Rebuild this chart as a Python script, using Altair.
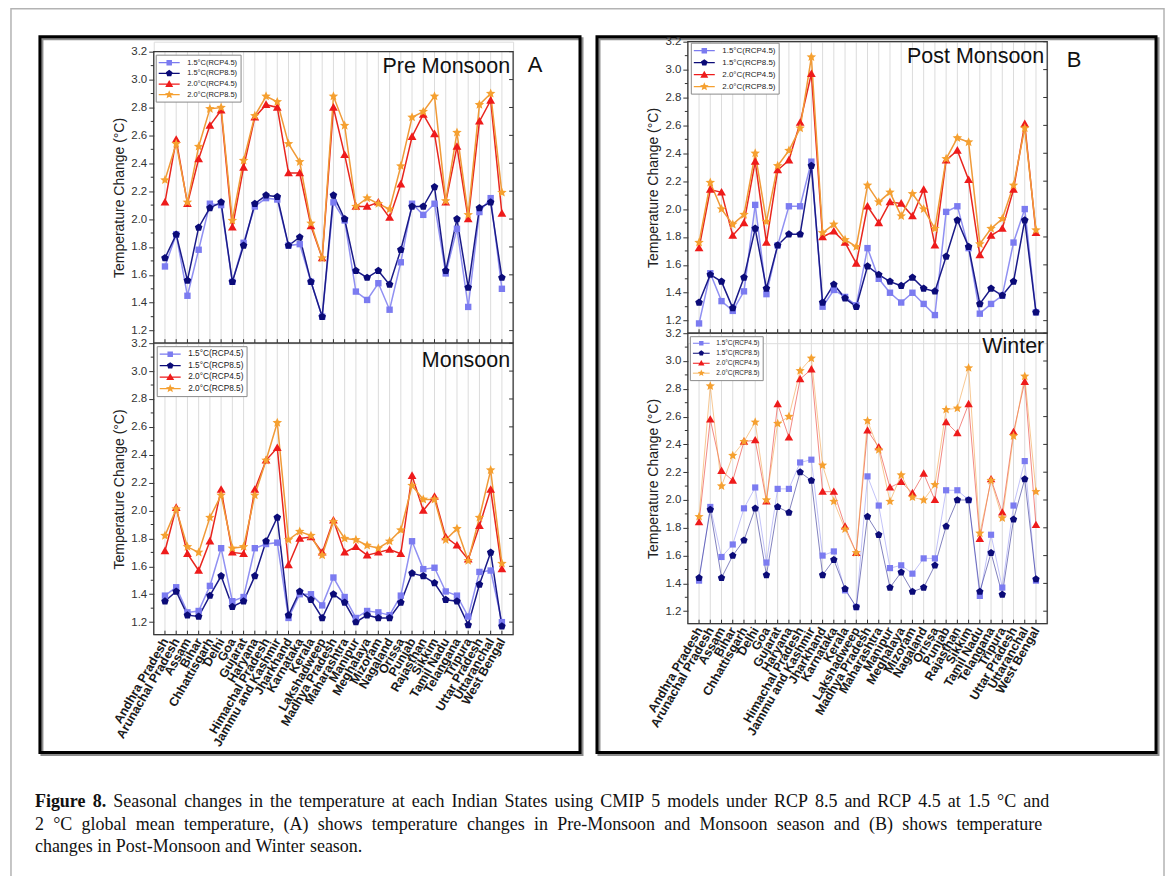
import altair as alt
import pandas as pd

states = ["Andhra Pradesh", "Arunachal Pradesh", "Assam", "Bihar", "Chhattisgarh", "Delhi", "Goa",
          "Gujarat", "Haryana", "Himachal Pradesh", "Jammu and Kashmir", "Jharkhand", "Karnataka",
          "Kerala", "Lakshadweep", "Madhya Pradesh", "Maharashtra", "Manipur", "Meghalaya", "Mizoram",
          "Nagaland", "Orissa", "Punjab", "Rajasthan", "Sikkim", "Tamil Nadu", "Telangana", "Tripura",
          "Uttar Pradesh", "Uttaranchal", "West Bengal"]
series = ["1.5°C(RCP4.5)", "1.5°C(RCP8.5)", "2.0°C(RCP4.5)", "2.0°C(RCP8.5)"]

pre_15_45 = [1.66, 1.89, 1.45, 1.78, 2.11, 2.10, 1.55, 1.83, 2.09, 2.15, 2.14, 1.81, 1.82, 1.55, 1.30, 2.12,
             1.99, 1.48, 1.42, 1.54, 1.35, 1.69, 2.11, 2.03, 2.11, 1.61, 1.93, 1.37, 2.05, 2.15, 1.50]
pre_15_85 = [1.72, 1.89, 1.56, 1.94, 2.08, 2.12, 1.55, 1.81, 2.11, 2.17, 2.16, 1.81, 1.87, 1.55, 1.30, 2.17,
             2.00, 1.63, 1.58, 1.63, 1.53, 1.78, 2.09, 2.09, 2.23, 1.63, 2.00, 1.51, 2.08, 2.12, 1.58]
pre_20_45 = [2.12, 2.57, 2.11, 2.43, 2.67, 2.78, 1.94, 2.37, 2.73, 2.82, 2.80, 2.33, 2.33, 1.95, 1.72, 2.80,
             2.46, 2.09, 2.09, 2.12, 2.01, 2.25, 2.59, 2.75, 2.61, 2.12, 2.52, 2.00, 2.70, 2.85, 2.04]
pre_20_85 = [2.28, 2.54, 2.12, 2.52, 2.79, 2.80, 1.99, 2.42, 2.74, 2.88, 2.84, 2.54, 2.41, 1.97, 1.72, 2.88,
             2.67, 2.09, 2.15, 2.11, 2.07, 2.38, 2.73, 2.77, 2.88, 2.13, 2.62, 2.03, 2.82, 2.90, 2.19]

mon_15_45 = [1.39, 1.45, 1.27, 1.28, 1.46, 1.73, 1.35, 1.38, 1.73, 1.76, 1.77, 1.23, 1.40, 1.40, 1.32, 1.52,
             1.38, 1.23, 1.28, 1.27, 1.25, 1.39, 1.78, 1.58, 1.59, 1.42, 1.39, 1.24, 1.56, 1.57, 1.20]
mon_15_85 = [1.35, 1.42, 1.25, 1.24, 1.39, 1.53, 1.31, 1.35, 1.53, 1.78, 1.95, 1.25, 1.42, 1.36, 1.23, 1.40,
             1.34, 1.20, 1.25, 1.23, 1.23, 1.34, 1.55, 1.53, 1.48, 1.36, 1.35, 1.18, 1.47, 1.70, 1.17]
mon_20_45 = [1.71, 2.02, 1.69, 1.57, 1.78, 2.15, 1.70, 1.69, 2.15, 2.36, 2.45, 1.61, 1.80, 1.81, 1.70, 1.93,
             1.70, 1.74, 1.68, 1.70, 1.72, 1.69, 2.25, 2.00, 2.10, 1.81, 1.75, 1.65, 1.89, 2.15, 1.58]
mon_20_85 = [1.82, 2.01, 1.74, 1.70, 1.95, 2.11, 1.73, 1.74, 2.11, 2.36, 2.63, 1.79, 1.85, 1.82, 1.68, 1.92,
             1.80, 1.79, 1.75, 1.73, 1.78, 1.86, 2.18, 2.08, 2.08, 1.79, 1.87, 1.64, 1.95, 2.29, 1.62]

post_15_45 = [1.18, 1.54, 1.34, 1.27, 1.41, 2.03, 1.39, 1.74, 2.02, 2.02, 2.34, 1.30, 1.42, 1.37, 1.31, 1.72,
              1.50, 1.40, 1.33, 1.40, 1.32, 1.24, 1.98, 2.02, 1.72, 1.25, 1.32, 1.38, 1.76, 2.00, 1.26]
post_15_85 = [1.33, 1.53, 1.48, 1.29, 1.51, 1.86, 1.43, 1.74, 1.82, 1.82, 2.31, 1.33, 1.46, 1.36, 1.30, 1.59,
              1.53, 1.48, 1.45, 1.51, 1.43, 1.41, 1.66, 1.92, 1.73, 1.32, 1.43, 1.38, 1.48, 1.92, 1.26]
post_20_45 = [1.72, 2.14, 2.12, 1.81, 1.90, 2.34, 1.76, 2.28, 2.35, 2.62, 2.97, 1.80, 1.84, 1.76, 1.61, 2.02,
              1.90, 2.05, 2.04, 1.95, 2.14, 1.74, 2.35, 2.42, 2.21, 1.67, 1.81, 1.86, 2.14, 2.61, 1.83]
post_20_85 = [1.76, 2.19, 2.00, 1.89, 1.96, 2.40, 1.91, 2.31, 2.42, 2.58, 3.09, 1.83, 1.89, 1.78, 1.73, 2.17,
              2.05, 2.12, 1.95, 2.11, 2.00, 1.86, 2.36, 2.51, 2.48, 1.75, 1.86, 1.93, 2.17, 2.58, 1.85]

win_15_45 = [1.42, 1.95, 1.59, 1.68, 1.94, 2.09, 1.55, 2.08, 2.08, 2.27, 2.29, 1.60, 1.63, 1.35, 1.23, 2.17,
             1.96, 1.51, 1.53, 1.47, 1.58, 1.58, 2.07, 2.07, 2.00, 1.31, 1.75, 1.37, 1.96, 2.28, 1.42]
win_15_85 = [1.44, 1.93, 1.44, 1.60, 1.71, 1.94, 1.46, 1.95, 1.91, 2.20, 2.14, 1.46, 1.57, 1.36, 1.23, 1.88,
             1.75, 1.37, 1.48, 1.34, 1.37, 1.53, 1.81, 2.00, 2.00, 1.34, 1.62, 1.32, 1.86, 2.15, 1.43]
win_20_45 = [1.84, 2.58, 2.21, 2.14, 2.42, 2.43, 1.99, 2.69, 2.45, 2.87, 2.94, 2.06, 2.06, 1.81, 1.62, 2.50,
             2.38, 2.09, 2.13, 2.05, 2.19, 2.00, 2.56, 2.48, 2.69, 1.72, 2.15, 1.91, 2.49, 2.85, 1.82]
win_20_85 = [1.88, 2.82, 2.10, 2.32, 2.42, 2.56, 2.00, 2.55, 2.60, 2.93, 3.02, 2.25, 1.99, 1.79, 1.62, 2.57,
             2.36, 1.99, 2.18, 2.02, 2.00, 2.11, 2.65, 2.66, 2.95, 1.76, 2.14, 1.87, 2.46, 2.89, 2.06]

y_major = [1.2, 1.4, 1.6, 1.8, 2.0, 2.2, 2.4, 2.6, 2.8, 3.0, 3.2]
y_minor = [1.3, 1.5, 1.7, 1.9, 2.1, 2.3, 2.5, 2.7, 2.9, 3.1]

caption_bold = "Figure 8."
caption_line1 = "Seasonal changes in the temperature at each Indian States using CMIP 5 models under RCP 8.5 and RCP 4.5 at 1.5 °C and"
caption_line2 = "2 °C global mean temperature, (A) shows temperature changes in Pre-Monsoon and Monsoon season and (B) shows temperature"
caption_line3 = "changes in Post-Monsoon and Winter season."

# ---------------- styles ----------------
FONT = "Liberation Sans"
SERIF = "Liberation Serif"
marker_colors = ["#7b7bf0", "#0b0b78", "#ee1b1b", "#f5a030"]
line_colors = ["#9090f2", "#1a1a88", "#e8261e", "#f09a38"]
marker_paths = [
    "M-0.8,-0.8H0.8V0.8H-0.8Z",
    "M0,-1L0.951,-0.309L0.588,0.809L-0.588,0.809L-0.951,-0.309Z",
    "M0,-1.1L1.1,0.8L-1.1,0.8Z",
    "M0,-1.25L0.33,-0.455L1.19,-0.386L0.535,0.174L0.735,1.01L0,0.56L-0.735,1.01L-0.535,0.174L-1.19,-0.386L-0.33,-0.455Z",
]
legend_paths = [
    "M-2.1,-0.12H2.1V0.12H-2.1Z M-0.55,-0.55H0.55V0.55H-0.55Z",
    "M-2.1,-0.12H2.1V0.12H-2.1Z M0,-0.7L0.666,-0.216L0.412,0.566L-0.412,0.566L-0.666,-0.216Z",
    "M-2.1,-0.12H2.1V0.12H-2.1Z M0,-0.8L0.8,0.6L-0.8,0.6Z",
    "M-2.1,-0.12H2.1V0.12H-2.1Z M0,-0.9L0.238,-0.328L0.856,-0.278L0.385,0.125L0.529,0.727L0,0.403L-0.529,0.727L-0.385,0.125L-0.856,-0.278L-0.238,-0.328Z",
]

# approximate glyph advance widths (em) of the serif caption font, used to justify the caption
TW = {" ": .25, "(": .333, ")": .333, ",": .25, "-": .333, ".": .25, "°": .4}
TW.update({d: .5 for d in "0123456789"})
TW.update(dict(zip("ABCDEFGHIJKLMNOPQRSTUVWXYZ",
                   [.722, .667, .667, .722, .611, .556, .722, .722, .333, .389, .722, .611, .889, .722,
                    .722, .556, .722, .667, .556, .611, .722, .722, .944, .722, .722, .611])))
TW.update(dict(zip("abcdefghijklmnopqrstuvwxyz",
                   [.444, .5, .444, .5, .444, .333, .5, .5, .278, .278, .5, .278, .778, .5, .5, .5, .5,
                    .333, .389, .278, .5, .5, .722, .5, .5, .444])))
TWB = {"F": .611, "i": .278, "g": .5, "u": .556, "r": .444, "e": .444, "8": .5, ".": .25}


def text_width(s, size, bold=False):
    table = TWB if bold else {}
    return sum(table.get(c, TW.get(c, .5)) for c in s) * size


one = pd.DataFrame({"k": [0]})
state_df = pd.DataFrame({"state": states})
major_df = pd.DataFrame({"v": y_major})
minor_df = pd.DataFrame({"v": y_minor})
YDOM = [1.11, 3.2]


def vrect(x1, y1, x2, y2, **kw):
    return alt.Chart(one).mark_rect(**kw).encode(
        x=alt.value(x1), x2=alt.value(x2), y=alt.value(y1), y2=alt.value(y2))


def vtext(txt, x, y, **kw):
    return alt.Chart(one).mark_text(text=txt, **kw).encode(x=alt.value(x), y=alt.value(y))


def panel(values, W, H, top, title, title_y, leg, bottom_labels, thin=False, letter=None, decor=None):
    rows = []
    for s, vals in zip(series, values):
        for st, v in zip(states, vals):
            rows.append({"state": st, "series": s, "value": v})
    df = pd.DataFrame(rows)

    xs = alt.Scale(type="point", domain=states, padding=1)
    ys = alt.Scale(domain=YDOM, range=[H, top], nice=False, zero=False)
    if bottom_labels:
        xaxis = alt.Axis(title=None, labelAngle=-60, labelAlign="right", labelBaseline="middle",
                         ticks=False, domain=False, grid=False, labelOverlap=False, labelPadding=4,
                         labelFont=FONT, labelFontSize=12.5, labelFontWeight="bold", labelColor="#1a1a1a",
                         labelBound=False)
    else:
        xaxis = None
    yaxis = alt.Axis(values=y_major, format=".1f", title="Temperature Change (°C)", grid=False,
                     domain=False, tickSize=5, tickColor="#333", labelFont=FONT, labelFontSize=11.5,
                     labelColor="#333", labelPadding=2, titleFont=FONT, titleFontSize=14,
                     titleFontWeight="normal", titleColor="#222", titlePadding=4)

    X = lambda: alt.X("state:N", scale=xs, axis=xaxis)

    layers = []
    if decor:
        layers += decor
    grid = alt.Chart(state_df).mark_rule(color="#dcdcdc", strokeWidth=1).encode(
        x=X(), y=alt.value(top), y2=alt.value(H))
    frame = vrect(0, top, W, H, fill="transparent", stroke="#3a3a3a", strokeWidth=1.3)
    bticks = alt.Chart(state_df).mark_rule(color="#333", strokeWidth=1).encode(
        x=X(), y=alt.value(H - 4), y2=alt.value(H))
    rticks = alt.Chart(major_df).mark_rule(color="#333", strokeWidth=1).encode(
        y=alt.Y("v:Q", scale=ys, axis=yaxis), x=alt.value(W - 4), x2=alt.value(W))
    mticks = alt.Chart(minor_df).mark_rule(color="#333", strokeWidth=1).encode(
        y=alt.Y("v:Q", scale=ys, axis=yaxis), x=alt.value(-3), x2=alt.value(0))

    lw = 1.0 if thin else 1.5
    lop = 0.55 if thin else 1.0
    lines = alt.Chart(df).mark_line(strokeWidth=lw, strokeOpacity=lop).encode(
        x=X(),
        y=alt.Y("value:Q", scale=ys, axis=yaxis),
        color=alt.Color("series:N", scale=alt.Scale(domain=series, range=line_colors), legend=None),
        detail="series:N",
    )
    pts = alt.Chart(df).mark_point(filled=True, opacity=1, size=leg["msize"], strokeWidth=0).encode(
        x=X(),
        y=alt.Y("value:Q", scale=ys, axis=yaxis),
        color=alt.Color("series:N", scale=alt.Scale(domain=series, range=marker_colors), legend=None),
        shape=alt.Shape("series:N", scale=alt.Scale(domain=series, range=marker_paths), legend=None),
    )
    lg = alt.Legend(orient="none", legendX=leg["x"], legendY=leg["y"], padding=3,
                    strokeColor="#8a8a8a", fillColor="white", symbolSize=leg["ss"],
                    symbolStrokeWidth=0, symbolOffset=leg["so"], labelOffset=leg["lo"],
                    labelFont=FONT, labelFontSize=leg["fs"], labelColor="#222",
                    rowPadding=leg["rp"], symbolOpacity=1)
    legend_layer = alt.Chart(df).transform_filter("false").mark_point(filled=True, opacity=1).encode(
        x=X(),
        y=alt.Y("value:Q", scale=ys, axis=yaxis),
        color=alt.Color("series:N", scale=alt.Scale(domain=series, range=marker_colors), legend=lg, title=None),
        shape=alt.Shape("series:N", scale=alt.Scale(domain=series, range=legend_paths), legend=lg, title=None),
    )
    ttl = vtext(title, W - 3, title_y, font=FONT, fontSize=21.5, align="right", baseline="middle", color="#111")
    layers += [grid, frame, bticks, rticks, mticks, lines, pts, legend_layer, ttl]
    if letter:
        layers.append(vtext(letter[0], letter[1], letter[2], font=FONT, fontSize=22, align="center",
                            baseline="middle", color="#111"))
    return alt.layer(*layers).resolve_scale(color="independent", shape="independent").properties(
        width=W, height=H)


# geometry (pixels)
WA, WB = 360, 360
GAP = 175
OFF = 10

# decorations are drawn in the first panel; its origin is the page point (153, 40)
OX, OY = 153, 40
CAP = 18


def caption_words(words, x0, x1, y, justify):
    widths = [text_width(w, CAP, b) for w, b in words]
    if justify:
        gap = (x1 - x0 - sum(widths)) / (len(words) - 1)
    else:
        gap = text_width(" ", CAP)
    out, x = [], x0
    for (w, b), wd in zip(words, widths):
        out.append({"t": w, "px": x - OX, "py": y - OY, "bold": b})
        x += wd + gap
    return out


cap_rows = []
cap_rows += caption_words([(w, True) for w in caption_bold.split()] +
                          [(w, False) for w in caption_line1.split()], 34, 1050, 807, True)
cap_rows += caption_words([(w, False) for w in caption_line2.split()], 34, 1043, 829.5, True)
cap_rows += caption_words([(w, False) for w in caption_line3.split()], 34, 0, 852, False)
cap_df = pd.DataFrame(cap_rows)


def cap_layer(bold):
    return alt.Chart(cap_df[cap_df["bold"] == bold]).mark_text(
        font=SERIF, fontSize=CAP, fontWeight="bold" if bold else "normal", align="left",
        baseline="alphabetic", color="#111").encode(
        x=alt.X("px:Q", scale=None), y=alt.Y("py:Q", scale=None), text="t:N")


decor = [
    vrect(-OX, -OY, 1170 - OX, 876 - OY, fill="transparent", strokeWidth=0),
    vrect(10 - OX, 7 - OY, 1165 - OX, 900 - OY, fill="transparent", stroke="#b3b3b3", strokeWidth=1.5),
    vrect(41 - OX, 37 - OY, 582 - OX, 754 - OY, fill="transparent", stroke="#8c8c8c", strokeWidth=3),
    vrect(39 - OX, 35 - OY, 580 - OX, 752 - OY, fill="transparent", stroke="#000", strokeWidth=3),
    vrect(599 - OX, 37 - OY, 1159 - OX, 754 - OY, fill="transparent", stroke="#8c8c8c", strokeWidth=3),
    vrect(597 - OX, 35 - OY, 1157 - OX, 752 - OY, fill="transparent", stroke="#000", strokeWidth=3),
    cap_layer(True),
    cap_layer(False),
]

leg_pre = dict(x=2, y=OFF + 3, ss=100, so=5.5, lo=13, fs=7.5, rp=1.7, msize=64)
leg_mon = dict(x=3, y=3, ss=100, so=5.5, lo=13, fs=8.3, rp=2.5, msize=64)
leg_post = dict(x=3, y=1, ss=100, so=5.5, lo=13, fs=8.0, rp=3.0, msize=64)
leg_win = dict(x=2, y=-7, ss=64, so=4.5, lo=11, fs=6.5, rp=2, msize=60)

pre = panel([pre_15_45, pre_15_85, pre_20_45, pre_20_85], WA, 292 + OFF, OFF, "Pre Monsoon", OFF + 15,
            leg_pre, False, letter=("A", WA + 22, OFF + 13), decor=decor)
post = panel([post_15_45, post_15_85, post_20_45, post_20_85], WB, 292, 0, "Post Monsoon", 15,
             leg_post, False, letter=("B", WB + 27, 18))
mon = panel([mon_15_45, mon_15_85, mon_20_45, mon_20_85], WA, 292, 0, "Monsoon", 18,
            leg_mon, True)
# the second row starts 10 px lower than the winter plot should, so its range reaches above the view
win = panel([win_15_45, win_15_85, win_20_45, win_20_85], WB, 281, -OFF, "Winter", 4,
            leg_win, True, thin=True)

chart = alt.concat(pre, post, mon, win, columns=2, spacing=alt.RowColnumber(row=0, column=GAP),
                   bounds="flush", align="none").properties(padding=0).configure_view(
    strokeWidth=0).configure(background="white")

chart.save("out.html", embed_options={"renderer": "svg", "actions": False})
